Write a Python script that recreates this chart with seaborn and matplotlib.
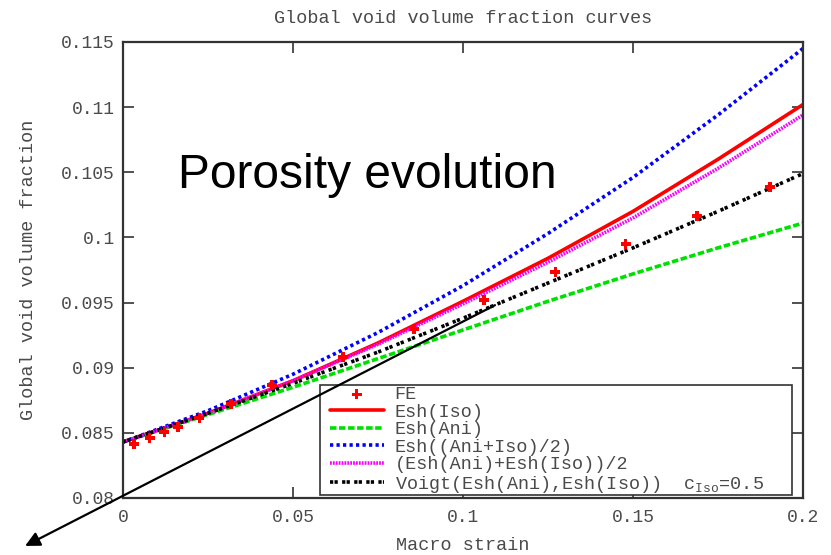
import matplotlib
matplotlib.use("Agg")
import matplotlib.pyplot as plt
from matplotlib.patches import Rectangle
import seaborn as sns
import pandas as pd
import numpy as np

# ---- data ----
strain = [0.0, 0.025, 0.05, 0.075, 0.1, 0.125, 0.15, 0.175, 0.2]
esh_iso = [0.0843, 0.0865, 0.0890, 0.0919, 0.0951, 0.0984, 0.1020, 0.1060, 0.1102]
esh_ani = [0.0843, 0.0864, 0.0885, 0.0907, 0.0929, 0.0951, 0.0972, 0.0992, 0.1011]
esh_avg = [0.0843, 0.0867, 0.0895, 0.0927, 0.0963, 0.1003, 0.1046, 0.1094, 0.1145]
avg_esh = [0.0843, 0.0865, 0.0890, 0.0918, 0.0949, 0.0981, 0.1015, 0.1053, 0.1094]
voigt = [0.0843, 0.0865, 0.0888, 0.0912, 0.0938, 0.0965, 0.0992, 0.1020, 0.1049]

fe_strain = [0.0032, 0.0079, 0.0121, 0.0162, 0.0224, 0.0318, 0.0438, 0.0647,
             0.0856, 0.1062, 0.1271, 0.1479, 0.1688, 0.1903]
fe_vvf = [0.08414, 0.08461, 0.08507, 0.08545, 0.08614, 0.08721, 0.08867, 0.09082,
          0.09297, 0.0952, 0.09735, 0.0995, 0.10164, 0.10387]

xticks = [0, 0.05, 0.1, 0.15, 0.2]
xtick_labels = ["0", "0.05", "0.1", "0.15", "0.2"]
yticks = [0.08, 0.085, 0.09, 0.095, 0.1, 0.105, 0.11, 0.115]
ytick_labels = ["0.08", "0.085", "0.09", "0.095", "0.1", "0.105", "0.11", "0.115"]

labels = ["FE", "Esh(Iso)", "Esh(Ani)", "Esh((Ani+Iso)/2)", "(Esh(Ani)+Esh(Iso))/2",
          r"Voigt(Esh(Ani),Esh(Iso))  $c_{\mathrm{Iso}}$=0.5"]

# ---- style ----
sns.set_theme(style="white")
mono = "Liberation Mono"
plt.rcParams["font.family"] = [mono, "DejaVu Sans Mono"]
plt.rcParams["mathtext.fontset"] = "custom"
plt.rcParams["mathtext.rm"] = mono
plt.rcParams["mathtext.it"] = mono
plt.rcParams["mathtext.default"] = "rm"
tc = "#4a4a4a"
fs = 13.3

fig = plt.figure(figsize=(8.31, 5.55), dpi=100)
ax = fig.add_axes([123 / 831, 1 - 498 / 555, 680 / 831, 456 / 555])

lw = 2.6
df_fe = pd.DataFrame({"x": fe_strain, "y": fe_vvf})
sns.scatterplot(data=df_fe, x="x", y="y", ax=ax, marker="P", s=50, color="red",
                edgecolor="none", label=labels[0], zorder=6)

series = [
    (esh_iso, labels[1], "red", (None, None)),
    (esh_ani, labels[2], "#00e000", (1.8, 0.7)),
    (esh_avg, labels[3], "#0000ff", (0.9, 0.9)),
    (avg_esh, labels[4], "#ff00ff", (0.5, 0.3)),
    (voigt, labels[5], "black", (0.9, 0.35, 0.9, 1.2)),
]
for vals, lab, col, dash in series:
    d = pd.DataFrame({"x": strain, "y": vals})
    sns.lineplot(data=d, x="x", y="y", ax=ax, color=col, lw=lw, label=lab)
    ln = ax.get_lines()[-1]
    if dash[0] is not None:
        ln.set_dashes(dash)

ax.set_xlim(0, 0.2)
ax.set_ylim(0.08, 0.115)
ax.set_xticks(xticks)
ax.set_xticklabels(xtick_labels)
ax.set_yticks(yticks)
ax.set_yticklabels(ytick_labels)
ax.tick_params(axis="both", direction="in", length=8, width=1.2, colors="#333333",
               labelsize=13, labelcolor=tc, top=True, right=True, bottom=True, left=True)
ax.tick_params(axis="x", pad=8)
ax.tick_params(axis="y", pad=6)
for s in ax.spines.values():
    s.set_color("#333333")
    s.set_linewidth(1.6)

ax.set_title("Global void volume fraction curves", fontsize=fs, color=tc, pad=14)
ax.set_xlabel("Macro strain", fontsize=fs, color=tc, labelpad=8)
ax.set_ylabel("Global void volume fraction", fontsize=fs, color=tc, labelpad=17)

# legend frame box (drawn separately so the inner padding matches)
frame = Rectangle((197 / 680, 3 / 456), 472 / 680, 110 / 456, transform=ax.transAxes,
                  facecolor="white", edgecolor="#333333", linewidth=1.2, zorder=4.5)
ax.add_patch(frame)

leg = ax.legend(loc="upper left", bbox_to_anchor=(207 / 680, 112 / 456), fontsize=fs,
                frameon=False, handlelength=2.9, labelspacing=0.03,
                handletextpad=0.6, borderpad=0.0, borderaxespad=0)
leg.set_zorder(5)
for t in leg.get_texts():
    t.set_color(tc)

ax.annotate("", xy=(-0.0288, 0.07632), xytext=(0.1094, 0.0948),
            xycoords="data", textcoords="data", annotation_clip=False,
            arrowprops=dict(arrowstyle="-|>", mutation_scale=22, lw=1.6, color="black",
                            shrinkA=0, shrinkB=0), zorder=7)

fig.text(178 / 831, 1 - 175 / 555, "Porosity evolution", fontsize=34.5,
         family="Liberation Sans", color="black", va="center", ha="left")

fig.savefig("out.png", dpi=100)
